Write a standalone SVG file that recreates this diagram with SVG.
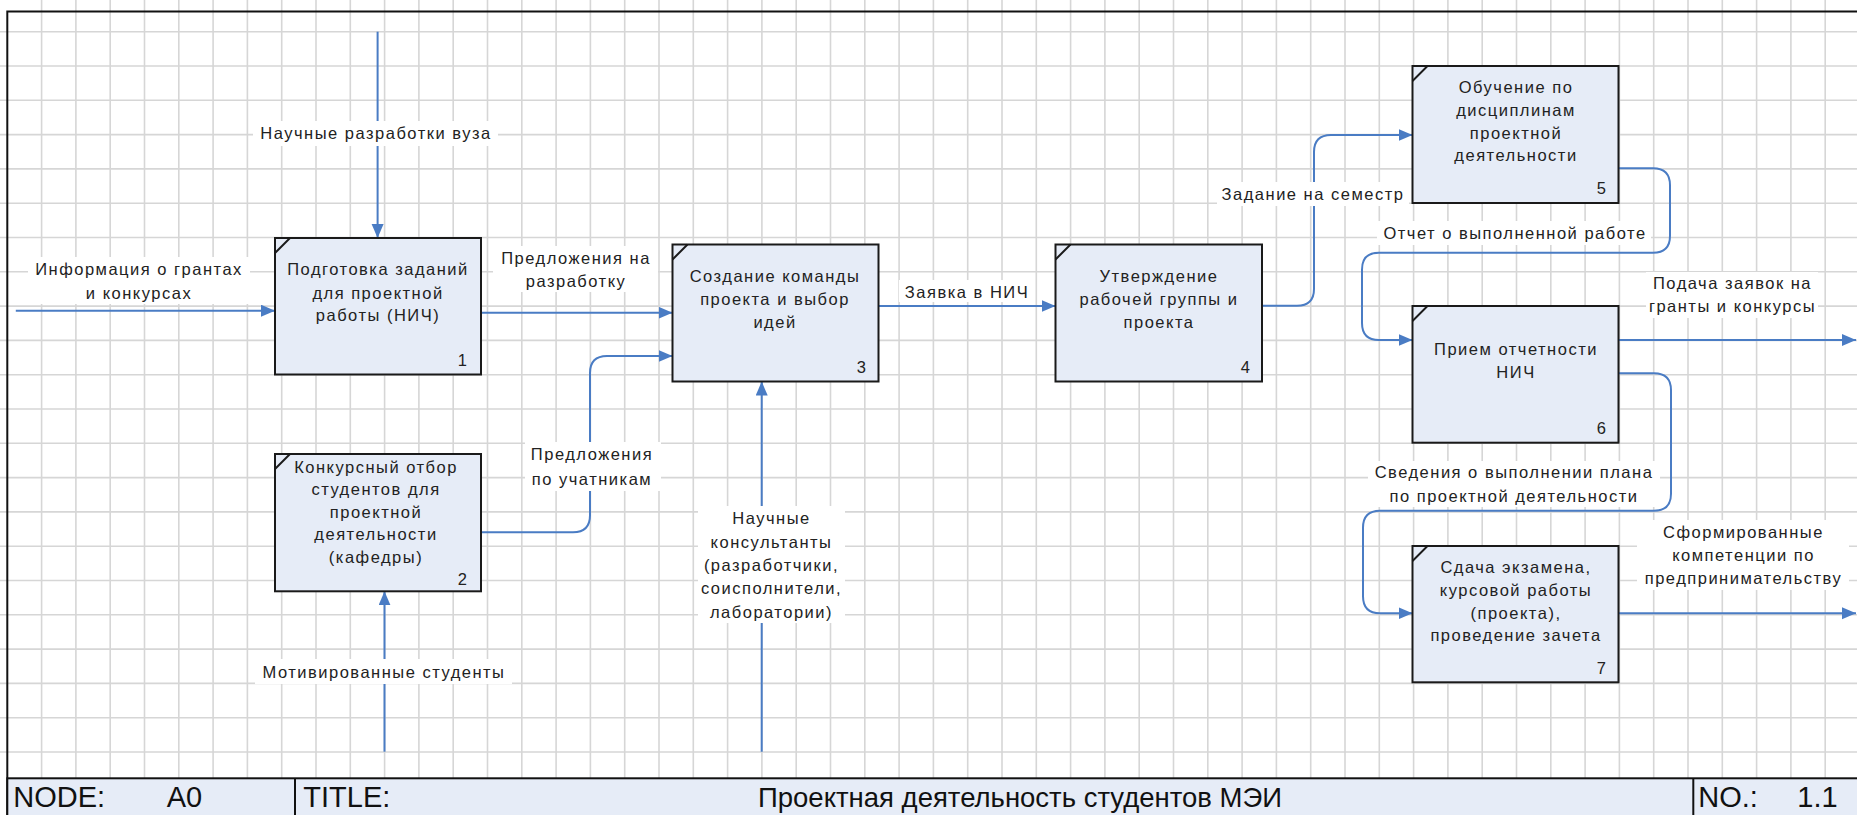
<svg xmlns="http://www.w3.org/2000/svg" width="1857" height="815" viewBox="0 0 1857 815">
<style>
.grid{stroke:#d6d6d6;stroke-width:1.6;fill:none}
.box{fill:#e6ecf7;stroke:#1a1a1a;stroke-width:2}
.mark{stroke:#1a1a1a;stroke-width:2}
.t{font-family:"Liberation Sans",Arial,sans-serif;font-size:16.5px;letter-spacing:1.5px;fill:#222;text-anchor:middle}
.n{font-family:"Liberation Sans",Arial,sans-serif;font-size:16.5px;fill:#222;text-anchor:end}
.c{fill:none;stroke:#4a7cc4;stroke-width:2}
.lb{fill:#ffffff}
.bar{font-family:"Liberation Sans",Arial,sans-serif;fill:#111}
</style>
<defs>
<marker id="ah" markerUnits="userSpaceOnUse" markerWidth="15" markerHeight="13" refX="14" refY="6" orient="auto">
<path d="M0,0 L14,6 L0,12 z" fill="#4a7cc4"/>
</marker>
</defs>
<rect x="0" y="0" width="1857" height="815" fill="#ffffff"/>
<path class="grid" d="M41.6,0V815M75.9,0V815M110.2,0V815M144.5,0V815M178.8,0V815M213.1,0V815M247.4,0V815M281.7,0V815M316,0V815M350.3,0V815M384.6,0V815M418.9,0V815M453.2,0V815M487.5,0V815M521.8,0V815M556.1,0V815M590.4,0V815M624.7,0V815M659,0V815M693.3,0V815M727.6,0V815M761.9,0V815M796.2,0V815M830.5,0V815M864.8,0V815M899.1,0V815M933.4,0V815M967.7,0V815M1002,0V815M1036.3,0V815M1070.6,0V815M1104.9,0V815M1139.2,0V815M1173.5,0V815M1207.8,0V815M1242.1,0V815M1276.4,0V815M1310.7,0V815M1345,0V815M1379.3,0V815M1413.6,0V815M1447.9,0V815M1482.2,0V815M1516.5,0V815M1550.8,0V815M1585.1,0V815M1619.4,0V815M1653.7,0V815M1688,0V815M1722.3,0V815M1756.6,0V815M1790.9,0V815M1825.2,0V815M0,31.7H1857M0,66H1857M0,100.3H1857M0,134.6H1857M0,168.9H1857M0,203.2H1857M0,237.5H1857M0,271.8H1857M0,306.1H1857M0,340.4H1857M0,374.7H1857M0,409H1857M0,443.3H1857M0,477.6H1857M0,511.9H1857M0,546.2H1857M0,580.5H1857M0,614.8H1857M0,649.1H1857M0,683.4H1857M0,717.7H1857M0,752H1857"/>
<path d="M7.3,815V11.5H1857" fill="none" stroke="#111" stroke-width="2"/>

<g id="connectors">
<path class="c" d="M377.6,31.7V238" marker-end="url(#ah)"/>
<path class="c" d="M15.8,310.7H275" marker-end="url(#ah)"/>
<path class="c" d="M481,312.7H672.5" marker-end="url(#ah)"/>
<path class="c" d="M481,532.3H573Q590,532.3 590,515.3V373Q590,356 607,356H672.5" marker-end="url(#ah)"/>
<path class="c" d="M384.5,751.7V591.3" marker-end="url(#ah)"/>
<path class="c" d="M761.7,751.7V381.5" marker-end="url(#ah)"/>
<path class="c" d="M878.5,306H1055.5" marker-end="url(#ah)"/>
<path class="c" d="M1262,305.7H1297Q1314,305.7 1314,288.7V152Q1314,135 1331,135H1412.5" marker-end="url(#ah)"/>
<path class="c" d="M1618.5,168.3H1653Q1670,168.3 1670,185.3V235.7Q1670,252.7 1653,252.7H1379Q1362,252.7 1362,269.7V323Q1362,340 1379,340H1412.5" marker-end="url(#ah)"/>
<path class="c" d="M1618.5,340H1856" marker-end="url(#ah)"/>
<path class="c" d="M1618.5,373.3H1654Q1671,373.3 1671,390.3V493.7Q1671,510.7 1654,510.7H1380Q1363,510.7 1363,527.7V596.3Q1363,613.3 1380,613.3H1412.5" marker-end="url(#ah)"/>
<path class="c" d="M1618.5,613.3H1856" marker-end="url(#ah)"/>

<rect class="lb" x="253" y="121" width="245" height="25"/>
<text class="t" x="376" y="138.7">Научные разработки вуза</text>
<rect class="lb" x="28" y="257" width="222" height="47"/>
<text class="t" x="139" y="275.3">Информация о грантах</text>
<text class="t" x="139" y="298.7">и конкурсах</text>
<rect class="lb" x="493" y="246" width="165" height="46"/>
<text class="t" x="576" y="263.7">Предложения на</text>
<text class="t" x="576" y="287">разработку</text>
<rect class="lb" x="525" y="442" width="136" height="49"/>
<text class="t" x="592" y="460">Предложения</text>
<text class="t" x="592" y="485.3">по учатникам</text>
<rect class="lb" x="255" y="659" width="257" height="25"/>
<text class="t" x="384" y="677.7">Мотивированные студенты</text>
<rect class="lb" x="698" y="506" width="147" height="117"/>
<text class="t" x="771.5" y="524.3">Научные</text>
<text class="t" x="771.5" y="547.7">консультанты</text>
<text class="t" x="771.5" y="571">(разработчики,</text>
<text class="t" x="771.5" y="593.7">соисполнители,</text>
<text class="t" x="771.5" y="617.7">лаборатории)</text>
<rect class="lb" x="899" y="280" width="136" height="22"/>
<text class="t" x="967" y="297.7">Заявка в НИЧ</text>
<rect class="lb" x="1217" y="182" width="192" height="24"/>
<text class="t" x="1313" y="200.3">Задание на семестр</text>
<rect class="lb" x="1377" y="221" width="274" height="24"/>
<text class="t" x="1515" y="238.7">Отчет о выполненной работе</text>
<rect class="lb" x="1646" y="272" width="172" height="46"/>
<text class="t" x="1732.5" y="289.3">Подача заявок на</text>
<text class="t" x="1732.5" y="312">гранты и конкурсы</text>
<rect class="lb" x="1368" y="461" width="292" height="46"/>
<text class="t" x="1514" y="478.3">Сведения о выполнении плана</text>
<text class="t" x="1514" y="502">по проектной деятельности</text>
<rect class="lb" x="1637" y="520" width="212" height="70"/>
<text class="t" x="1743.5" y="538.3">Сформированные</text>
<text class="t" x="1743.5" y="561">компетенции по</text>
<text class="t" x="1743.5" y="584.3">предпринимательству</text>
</g>

<g id="node1">
<rect class="box" x="275" y="238" width="206" height="136.5"/>
<line class="mark" x1="275" y1="253" x2="290" y2="238"/>
<text class="t" x="378" y="275.3">Подготовка заданий</text>
<text class="t" x="378" y="298.7">для проектной</text>
<text class="t" x="378" y="321.3">работы (НИЧ)</text>
<text class="n" x="467" y="366">1</text>
</g>
<g id="node2">
<rect class="box" x="275" y="454" width="206" height="137.3"/>
<line class="mark" x1="275" y1="469" x2="290" y2="454"/>
<text class="t" x="376" y="472.7">Конкурсный отбор</text>
<text class="t" x="376" y="495.3">студентов для</text>
<text class="t" x="376" y="517.7">проектной</text>
<text class="t" x="376" y="540.3">деятельности</text>
<text class="t" x="376" y="562.7">(кафедры)</text>
<text class="n" x="467" y="585.3">2</text>
</g>
<g id="node3">
<rect class="box" x="672.5" y="244.5" width="206" height="137"/>
<line class="mark" x1="672.5" y1="259.5" x2="687.5" y2="244.5"/>
<text class="t" x="775" y="282">Создание команды</text>
<text class="t" x="775" y="305.3">проекта и выбор</text>
<text class="t" x="775" y="327.7">идей</text>
<text class="n" x="866" y="372.7">3</text>
</g>
<g id="node4">
<rect class="box" x="1055.5" y="244.5" width="206.5" height="137"/>
<line class="mark" x1="1055.5" y1="259.5" x2="1070.5" y2="244.5"/>
<text class="t" x="1159" y="282">Утверждение</text>
<text class="t" x="1159" y="305.3">рабочей группы и</text>
<text class="t" x="1159" y="328">проекта</text>
<text class="n" x="1250" y="372.7">4</text>
</g>
<g id="node5">
<rect class="box" x="1412.5" y="66" width="206" height="137"/>
<line class="mark" x1="1412.5" y1="81" x2="1427.5" y2="66"/>
<text class="t" x="1516" y="92.7">Обучение по</text>
<text class="t" x="1516" y="116">дисциплинам</text>
<text class="t" x="1516" y="138.7">проектной</text>
<text class="t" x="1516" y="161.3">деятельности</text>
<text class="n" x="1606" y="194.3">5</text>
</g>
<g id="node6">
<rect class="box" x="1412.5" y="306" width="206" height="136.7"/>
<line class="mark" x1="1412.5" y1="321" x2="1427.5" y2="306"/>
<text class="t" x="1516" y="355">Прием отчетности</text>
<text class="t" x="1516" y="377.7">НИЧ</text>
<text class="n" x="1606" y="434.3">6</text>
</g>
<g id="node7">
<rect class="box" x="1412.5" y="546" width="206" height="136.3"/>
<line class="mark" x1="1412.5" y1="561" x2="1427.5" y2="546"/>
<text class="t" x="1516" y="572.7">Сдача экзамена,</text>
<text class="t" x="1516" y="596">курсовой работы</text>
<text class="t" x="1516" y="618.7">(проекта),</text>
<text class="t" x="1516" y="641">проведение зачета</text>
<text class="n" x="1606" y="673.7">7</text>
</g>

<g id="titlebar">
<rect x="7.3" y="778.3" width="1860" height="45" fill="#e6ecf7" stroke="#111" stroke-width="2"/>
<line x1="295" y1="778.3" x2="295" y2="815" stroke="#111" stroke-width="2"/>
<line x1="1693.3" y1="778.3" x2="1693.3" y2="815" stroke="#111" stroke-width="2"/>
<text class="bar" x="13.3" y="807" font-size="29">NODE:</text>
<text class="bar" x="166.7" y="807" font-size="29">A0</text>
<text class="bar" x="303.3" y="807" font-size="29">TITLE:</text>
<text class="bar" x="1020" y="807" font-size="27.5" text-anchor="middle">Проектная деятельность студентов МЭИ</text>
<text class="bar" x="1698.3" y="807" font-size="29">NO.:</text>
<text class="bar" x="1797.3" y="807" font-size="29">1.1</text>
</g>
</svg>
